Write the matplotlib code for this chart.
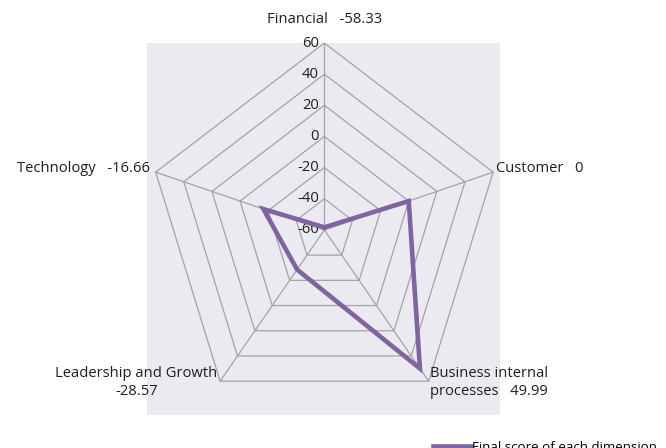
import numpy as np
import matplotlib.pyplot as plt

plt.rcParams["font.family"] = ["Open Sans", "DejaVu Sans"]

dimensions = ["Financial", "Customer", "Business internal\nprocesses", "Leadership and Growth", "Technology"]
scores = [-58.33, 0, 49.99, -28.57, -16.66]
score_labels = ["-58.33", "0", "49.99", "-28.57", "-16.66"]
ring_values = [-60, -40, -20, 0, 20, 40, 60]
series_name = "Final score of each dimension"

vmin, vmax = -60, 60
n = len(dimensions)
angles = np.pi / 2 - np.arange(n) * 2 * np.pi / n


def to_xy(values):
    r = (np.asarray(values, dtype=float) - vmin) / (vmax - vmin)
    return r * np.cos(angles), r * np.sin(angles)


fig = plt.figure(figsize=(6.66, 4.48), dpi=100)
ax = fig.add_axes([147 / 666, 33 / 448, 353 / 666, 372 / 448])
ax.set_facecolor("#ECEAF1")
ax.set_xlim(-1.0, 0.99)
ax.set_ylim(-0.99, 1.0)
for s in ax.spines.values():
    s.set_visible(False)
ax.set_xticks([])
ax.set_yticks([])

grid_col = "#A3A3A3"
fs = 10.6
txt_col = "#1E1E1E"
# rings
for v in ring_values[1:]:
    xs, ys = to_xy([v] * n)
    ax.plot(np.append(xs, xs[0]), np.append(ys, ys[0]), color=grid_col, lw=0.9, zorder=1)
# spokes
xo, yo = to_xy([vmax] * n)
for x, y in zip(xo, yo):
    ax.plot([0, x], [0, y], color=grid_col, lw=0.9, zorder=1)

# tick labels along the first spoke
for v in ring_values:
    r = (v - vmin) / (vmax - vmin)
    ax.annotate(str(v), (0, r), xytext=(-4, 0), textcoords="offset points",
                ha="right", va="center", fontsize=fs, color=txt_col)

# data line
xs, ys = to_xy(scores)
ax.plot(np.append(xs, xs[0]), np.append(ys, ys[0]), color="#8064A2", lw=3.3,
        label=series_name, zorder=3, solid_joinstyle="miter")

# category labels
label_opts = [
    dict(xytext=(0, 17), ha="center", va="center", ma="center"),
    dict(xytext=(2, 3), ha="left", va="center", ma="left"),
    dict(xytext=(1, -1), ha="left", va="center", ma="left"),
    dict(xytext=(-2, -1), ha="right", va="center", ma="center"),
    dict(xytext=(-4, 3), ha="right", va="center", ma="left"),
]
for i, (name, lab) in enumerate(zip(dimensions, score_labels)):
    text = name + "   " + lab if i in (0, 1, 2, 4) else name + "\n" + lab
    ax.annotate(text, (xo[i], yo[i]), textcoords="offset points", fontsize=fs,
                color=txt_col, annotation_clip=False, linespacing=1.35, **label_opts[i])

fig.legend(loc="lower left", bbox_to_anchor=(428 / 666, -11 / 448), frameon=False,
           fontsize=9.6, handlelength=2.8, handletextpad=0.1, borderaxespad=0)

fig.savefig("out.png", dpi=100)
